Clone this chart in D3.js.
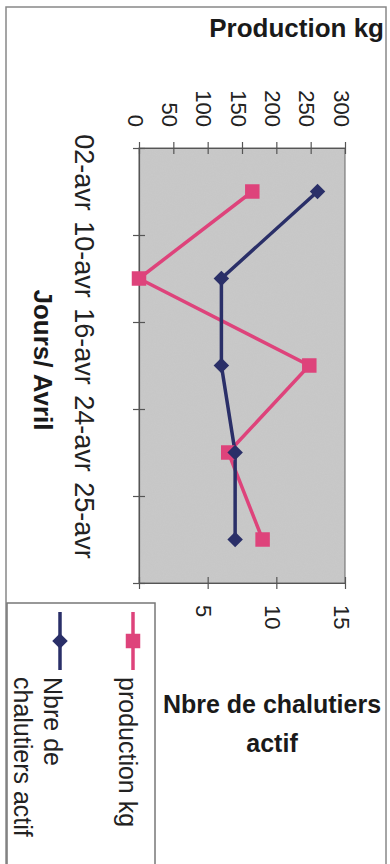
<!DOCTYPE html>
<html>
<head>
<meta charset="utf-8">
<script src="https://cdn.jsdelivr.net/npm/d3@7"></script>
<style>
  body { margin: 0; background: #fff; }
  svg { display: block; font-family: "Liberation Sans", Arial, sans-serif; }
</style>
</head>
<body>
<div id="chart"></div>
<script>
var width = 390;
var height = 864;

// data read from the (rotated) chart
var days = ["02-avr", "10-avr", "16-avr", "24-avr", "25-avr"];
var production = [165, 0, 248, 130, 180];
var chalutiers = [13, 6, 6, 7, 7];
var prodTicks = [0, 50, 100, 150, 200, 250, 300];
var nbreTicks = [0, 5, 10, 15];

var pink = "#de437b";
var navy = "#2a2f68";

var svg = d3.select("#chart")
    .append("svg")
    .attr("width", width)
    .attr("height", height);

// grainy grey for the plot area
var defs = svg.append("defs");
var grain = defs.append("filter").attr("id", "grain");
grain.append("feTurbulence")
    .attr("type", "fractalNoise")
    .attr("baseFrequency", 0.9)
    .attr("numOctaves", 1)
    .attr("seed", 3);
grain.append("feColorMatrix")
    .attr("values", "0 0 0 0 0.5  0 0 0 0 0.5  0 0 0 0 0.5  0 0 0 0.35 0");
grain.append("feComposite").attr("in2", "SourceGraphic").attr("operator", "in");

// outer frame
svg.append("rect")
    .attr("x", 6).attr("y", 7)
    .attr("width", 380).attr("height", 870)
    .attr("fill", "none")
    .attr("stroke", "#888")
    .attr("stroke-width", 1.5);

// the plot is drawn turned a quarter turn: values go left->right, days top->bottom
var plotL = 139, plotR = 345, plotT = 148, plotB = 583;

var xProd = d3.scaleLinear().domain([0, 300]).range([plotL, plotR]);
var xNbre = d3.scaleLinear().domain([0, 15]).range([plotL, plotR]);
var yDay = d3.scaleBand().domain(days).range([plotT, plotB]);
var yEdge = d3.scaleLinear().domain([0, days.length]).range([plotT, plotB]);
var mid = function(d){ return yDay(d) + yDay.bandwidth() / 2; };

// plot background
svg.append("rect")
    .attr("x", plotL).attr("y", plotT)
    .attr("width", plotR - plotL).attr("height", plotB - plotT)
    .attr("fill", "#c9c9c9");
svg.append("rect")
    .attr("x", plotL).attr("y", plotT)
    .attr("width", plotR - plotL).attr("height", plotB - plotT)
    .attr("fill", "#c9c9c9")
    .attr("filter", "url(#grain)")
    .attr("opacity", 0.6);
svg.append("rect")
    .attr("x", plotL).attr("y", plotT)
    .attr("width", plotR - plotL).attr("height", plotB - plotT)
    .attr("fill", "none")
    .attr("stroke", "#666")
    .attr("stroke-width", 1);

// production axis (top)
var prodAxis = svg.append("g")
    .attr("transform", "translate(0," + plotT + ")")
    .call(d3.axisTop(xProd).tickValues(prodTicks).tickSize(6).tickSizeOuter(0));
prodAxis.selectAll(".tick line").attr("y1", 6).attr("y2", -6);
prodAxis.selectAll(".tick text")
    .attr("transform", "rotate(90)")
    .attr("text-anchor", "end")
    .attr("x", -21).attr("y", 12).attr("dy", 0)
    .attr("font-size", 22).attr("fill", "#222");

// nbre axis (bottom)
var nbreAxis = svg.append("g")
    .attr("transform", "translate(0," + plotB + ")")
    .call(d3.axisBottom(xNbre).tickValues(nbreTicks).tickSize(6).tickSizeOuter(0));
nbreAxis.selectAll(".tick line").attr("y1", -6).attr("y2", 6);
nbreAxis.selectAll(".tick text")
    .attr("transform", "rotate(90)")
    .attr("text-anchor", "start")
    .attr("x", 22).attr("y", 12).attr("dy", 0)
    .attr("font-size", 22).attr("fill", "#222");

// day axis (left): ticks between the days
var edgeAxis = svg.append("g")
    .attr("transform", "translate(" + plotL + ",0)")
    .call(d3.axisLeft(yEdge).tickValues(d3.range(days.length + 1)).tickSize(6).tickSizeOuter(0).tickFormat(""));
edgeAxis.selectAll(".tick line").attr("x1", 6).attr("x2", -6);

var dayAxis = svg.append("g")
    .attr("transform", "translate(" + plotL + ",0)")
    .call(d3.axisLeft(yDay).tickSize(0));
dayAxis.select(".domain").remove();
dayAxis.selectAll(".tick text")
    .attr("transform", "rotate(90)")
    .attr("text-anchor", "middle")
    .attr("x", -19).attr("y", 64).attr("dy", 0)
    .attr("font-size", 27).attr("fill", "#222");

svg.selectAll(".domain, .tick line").attr("stroke", "#555").attr("stroke-width", 1.2);

// series lines
var prodLine = d3.line()
    .x(function(d){ return xProd(d.v); })
    .y(function(d){ return mid(d.day); });
var nbreLine = d3.line()
    .x(function(d){ return xNbre(d.v); })
    .y(function(d){ return mid(d.day); });

var prodData = days.map(function(d, i){ return { day: d, v: production[i] }; });
var nbreData = days.map(function(d, i){ return { day: d, v: chalutiers[i] }; });

svg.append("path")
    .datum(prodData)
    .attr("d", prodLine)
    .attr("fill", "none")
    .attr("stroke", pink)
    .attr("stroke-width", 3.5);

svg.append("path")
    .datum(nbreData)
    .attr("d", nbreLine)
    .attr("fill", "none")
    .attr("stroke", navy)
    .attr("stroke-width", 3.5);

var square = d3.symbol().type(d3.symbolSquare).size(210);
var diamond = d3.symbol().type(d3.symbolSquare).size(120);

svg.append("g").selectAll("path")
    .data(prodData)
    .enter()
        .append("path")
        .attr("d", square)
        .attr("transform", function(d){ return "translate(" + xProd(d.v) + "," + mid(d.day) + ")"; })
        .attr("fill", pink);

svg.append("g").selectAll("path")
    .data(nbreData)
    .enter()
        .append("path")
        .attr("d", diamond)
        .attr("transform", function(d){ return "translate(" + xNbre(d.v) + "," + mid(d.day) + ") rotate(45)"; })
        .attr("fill", navy);

// titles
svg.append("text")
    .attr("x", 384).attr("y", 37)
    .attr("text-anchor", "end")
    .attr("font-size", 26).attr("font-weight", "bold").attr("fill", "#1a1a1a")
    .text("Production kg");

svg.append("text")
    .attr("x", 272).attr("y", 713)
    .attr("text-anchor", "middle")
    .attr("font-size", 25).attr("font-weight", "bold").attr("fill", "#1a1a1a")
    .text("Nbre de chalutiers");
svg.append("text")
    .attr("x", 272).attr("y", 752)
    .attr("text-anchor", "middle")
    .attr("font-size", 25).attr("font-weight", "bold").attr("fill", "#1a1a1a")
    .text("actif");

svg.append("text")
    .attr("transform", "translate(34,360) rotate(90)")
    .attr("text-anchor", "middle")
    .attr("font-size", 26).attr("font-weight", "bold").attr("fill", "#1a1a1a")
    .text("Jours/ Avril");

// legend box (covers the 0 of the bottom axis, as in the original)
svg.append("rect")
    .attr("x", 7).attr("y", 603)
    .attr("width", 148).attr("height", 280)
    .attr("fill", "#fff")
    .attr("stroke", "#777")
    .attr("stroke-width", 1.5);

var legend = [
    { x: 133, color: pink, sym: square, rot: 0, lines: [{ t: "production kg", b: 119 }] },
    { x: 60, color: navy, sym: diamond, rot: 45, lines: [{ t: "Nbre de", b: 44 }, { t: "chalutiers actif", b: 14 }] }
];

var items = svg.append("g").selectAll("g")
    .data(legend)
    .enter()
        .append("g");

items.append("line")
    .attr("x1", function(d){ return d.x; }).attr("x2", function(d){ return d.x; })
    .attr("y1", 612).attr("y2", 670)
    .attr("stroke", function(d){ return d.color; })
    .attr("stroke-width", 3.5);

items.append("path")
    .attr("d", function(d){ return d.sym(); })
    .attr("transform", function(d){ return "translate(" + d.x + ",641) rotate(" + d.rot + ")"; })
    .attr("fill", function(d){ return d.color; });

items.selectAll("text")
    .data(function(d){ return d.lines; })
    .enter()
        .append("text")
        .attr("transform", function(d){ return "translate(" + d.b + ",677) rotate(90)"; })
        .attr("font-size", 25).attr("fill", "#222")
        .text(function(d){ return d.t; });
</script>
</body>
</html>
